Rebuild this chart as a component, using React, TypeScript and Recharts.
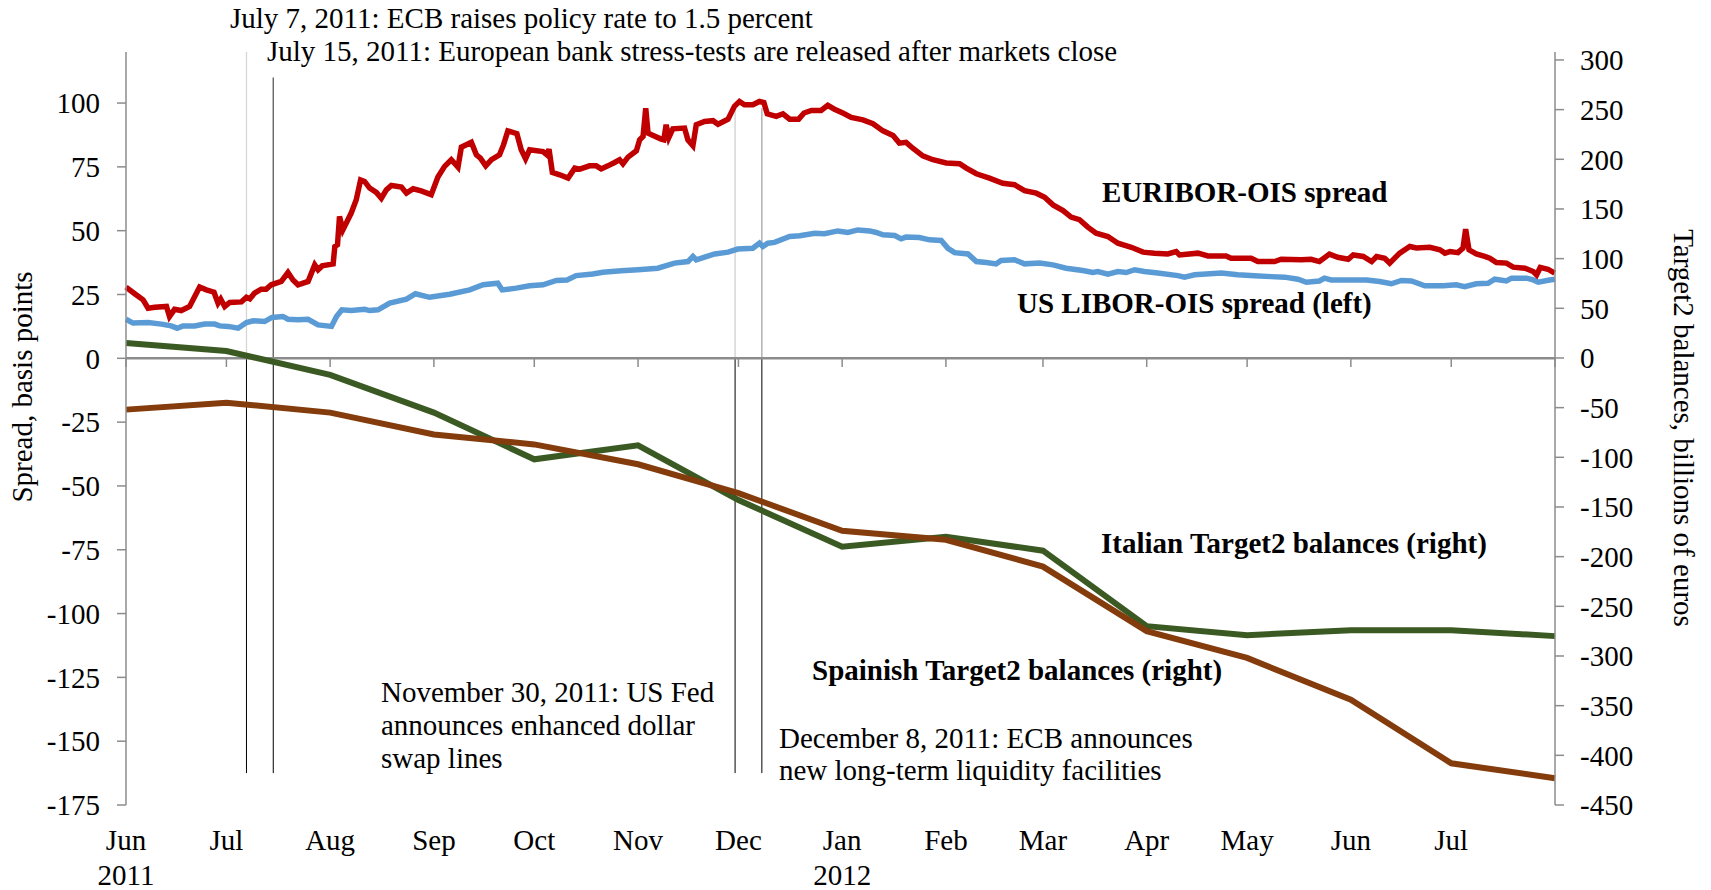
import { Line, LineChart, ReferenceLine, XAxis, YAxis } from "recharts";

const FONT = "'Liberation Serif', 'Times New Roman', serif";

const RED = "#c00000";
const BLUE = "#5b9bd5";
const GREEN = "#3b5a23";
const BROWN = "#843c0c";
const AXIS = "#8c8c8c";

// month starts, Jun 2011 .. Aug 2012
const monthStarts = [
  "2011-06-01", "2011-07-01", "2011-08-01", "2011-09-01", "2011-10-01",
  "2011-11-01", "2011-12-01", "2012-01-01", "2012-02-01", "2012-03-01",
  "2012-04-01", "2012-05-01", "2012-06-01", "2012-07-01", "2012-08-01",
];
const monthLabels = ["Jun", "Jul", "Aug", "Sep", "Oct", "Nov", "Dec", "Jan", "Feb", "Mar", "Apr", "May", "Jun", "Jul", ""];
const yearLabels = ["2011", "", "", "", "", "", "", "2012", "", "", "", "", "", "", ""];

// Target2 balances, billions of euros (right axis)
const italianT2 = [15, 7, -17, -55, -102, -88, -143, -190, -180, -194, -270, -279, -274, -274, -280];
const spanishT2 = [-52, -45, -55, -77, -87, -107, -136, -174, -183, -210, -275, -302, -344, -408, -423];

// days since 2011-06-01, basis points (left axis)
const euriborDay = [
  0, 2.6, 5.1, 6.6, 8.6, 12.1, 13, 14.5, 16.5, 19, 22, 24, 26.3, 27.5, 28.3, 29.5, 31, 34.5, 36, 37,
  38.4, 40.4, 41.9, 43.4, 46.4, 48.4, 49.9, 51.4, 54.4, 56.4, 57.4, 58.6, 61.9, 62.4, 63.2, 63.8, 64.8, 67.3, 68.8, 70.1,
  71.3, 72.8, 74.8, 76.3, 77.8, 79.3, 82.3, 83.8, 85.8, 88.2, 91.2, 93.2, 95.2, 97.2, 99.2, 100.2, 103.2, 104.7, 105.9, 107.5,
  109.2, 111.6, 112.8, 114.1, 116.8, 118.1, 119.4, 120.6, 124.6, 125.8, 126.4, 127.4, 129.6, 132.1, 134.1, 135.6, 138.5, 140.5, 142, 144,
  146, 147.5, 148.5, 150, 152.5, 153.5, 154.5, 155.3, 156, 159.9, 160.7, 161.4, 162.2, 163.4, 166.9, 167.9, 169.4, 170.4, 172.9, 175.4,
  176.9, 179.9, 181.8, 183.3, 184.8, 187.3, 189.3, 190.6, 191.6, 194.3, 196.3, 198.3, 201, 202.6, 204.8, 207.7, 209.7, 211.7, 214.2, 216.7,
  220.2, 223.2, 226.2, 229.2, 231.1, 233.1, 235.1, 238.1, 241.1, 245.1, 249.1, 251.1, 254.1, 258, 262, 265.5, 268.5, 272, 274.5, 277,
  280, 282.4, 284.9, 287.4, 289.9, 293.4, 296.4, 300.4, 303.9, 307.3, 311.3, 313.8, 314.8, 320.3, 323.3, 328.7, 330.2, 336.2, 338.2, 343.2,
  345.2, 351.2, 354.1, 356.6, 359.6, 362.1, 365.2, 366.7, 369.7, 372.2, 373.7, 376.1, 377.6, 380.6, 383.6, 385.6, 389.6, 392.6, 394.1, 395.6,
  398, 399.5, 400.3, 401.3, 403.5, 406, 407.5, 409.5, 412.5, 414.5, 418, 420.5, 421.5, 422.6, 424.9, 426.9,
];
const euriborBp = [
  27.9, 25.3, 22.9, 19.6, 20.0, 20.3, 16.4, 19.2, 18.7, 20.3, 27.9, 26.8, 25.9, 21.6, 23.2, 20.3, 21.9, 22.1, 23.9, 23.3,
  25.5, 27.1, 27.1, 28.8, 30.1, 33.6, 30.7, 28.8, 30.1, 36.6, 34.7, 36.2, 37.0, 43.8, 44.5, 55.6, 50.3, 56.9, 62.1, 69.9,
  69.3, 66.7, 65.0, 62.7, 66.0, 67.7, 67.1, 64.7, 66.4, 65.6, 64.1, 71.0, 75.2, 77.8, 74.9, 82.7, 84.6, 79.7, 78.4, 75.4,
  77.8, 79.7, 83.6, 89.1, 88.0, 81.7, 78.2, 81.7, 81.0, 79.7, 81.9, 72.8, 71.9, 70.6, 74.5, 74.1, 75.4, 75.4, 74.2, 75.4,
  76.7, 77.8, 76.2, 78.8, 81.3, 85.6, 86.9, 98.0, 88.2, 85.9, 85.6, 91.5, 86.5, 89.9, 90.2, 85.6, 83.3, 91.5, 92.8, 93.1,
  91.7, 93.7, 98.7, 100.6, 99.3, 99.3, 100.6, 100.2, 95.8, 94.8, 95.8, 93.7, 93.7, 96.1, 97.1, 97.1, 99.1, 97.6, 96.1, 94.4,
  93.4, 91.9, 89.1, 87.3, 84.3, 84.6, 82.3, 79.3, 77.8, 76.5, 76.2, 74.5, 72.3, 70.6, 68.6, 68.0, 65.7, 64.7, 63.1, 60.1,
  57.9, 55.3, 54.3, 51.4, 49.0, 47.7, 45.1, 43.5, 41.6, 41.2, 40.9, 41.8, 40.5, 41.2, 40.1, 40.1, 39.2, 39.2, 37.9, 37.9,
  38.8, 38.6, 38.8, 37.9, 40.8, 39.6, 38.8, 40.5, 39.9, 37.9, 39.9, 39.2, 37.3, 41.2, 43.8, 43.2, 43.5, 42.5, 41.2, 41.8,
  41.4, 43.2, 50.6, 42.5, 40.9, 39.9, 39.2, 37.5, 37.3, 35.7, 35.3, 34.0, 32.7, 35.6, 34.9, 33.4,
];

const liborDay = [
  0, 2.1, 6.6, 10.6, 13.5, 15.3, 17, 20.5, 23.5, 26.5, 28, 30.5, 33.5, 36, 38, 41.4, 43.6, 46.9, 48.4, 51.4,
  54.4, 57.4, 61.4, 62.9, 64.5, 67.3, 71.3, 72.8, 75.3, 78.8, 83.8, 86.5, 90.7, 96.7, 102.7, 106.7, 111.1, 112.4, 116.6, 120.6,
  124.6, 128.6, 131.8, 134.5, 139.5, 142.5, 148, 153, 158.9, 163.9, 167.9, 169.4, 170.4, 175.9, 179.9, 182.8, 187.3, 189.3, 190.3, 191.8,
  193.8, 198.3, 201.3, 205.8, 208.7, 212.7, 215.7, 218.7, 222.2, 224.2, 226.2, 229.7, 231.6, 233.1, 237.1, 240.1, 243.6, 245.6, 247.6, 251.6,
  254.1, 257.1, 260, 261.5, 265.5, 268.5, 273, 277, 280.9, 285.9, 288.9, 290.4, 293.4, 296.4, 298.9, 301.4, 304.3, 308.3, 314.3, 316.3,
  319.3, 327.3, 332.2, 337.2, 342.2, 346.2, 350.2, 352.7, 356.6, 358.1, 360.1, 365.7, 370.7, 374.6, 378.1, 381.1, 384.1, 388.1, 393.6, 397.5,
  400, 403.5, 407, 409, 412.5, 414, 418.5, 420.5, 422, 425.4, 427,
];
const liborBp = [
  15.3, 13.8, 14.0, 13.4, 12.7, 11.8, 12.7, 12.7, 13.4, 13.4, 12.7, 12.5, 11.8, 14.0, 14.7, 14.4, 16.0, 16.4, 15.3, 15.1,
  15.3, 13.1, 12.5, 16.4, 19.0, 18.7, 19.2, 18.7, 19.0, 21.6, 23.2, 25.3, 23.9, 25.1, 26.8, 28.8, 29.4, 26.8, 27.5, 28.4,
  28.8, 30.5, 30.7, 32.4, 33.0, 33.7, 34.3, 34.7, 35.3, 37.3, 37.9, 39.9, 38.6, 40.9, 41.6, 42.8, 43.1, 45.1, 43.8, 45.1,
  45.4, 47.7, 48.0, 49.0, 48.8, 49.9, 49.3, 50.3, 49.9, 49.3, 48.4, 48.1, 46.8, 47.5, 47.3, 46.4, 46.2, 43.1, 41.4, 40.9,
  37.9, 37.5, 37.0, 38.3, 38.6, 37.0, 37.3, 36.6, 35.3, 34.4, 33.6, 34.0, 33.0, 34.0, 33.6, 34.7, 34.0, 33.4, 32.4, 31.8,
  32.7, 33.4, 32.7, 32.3, 32.0, 31.8, 31.0, 29.8, 30.3, 31.4, 30.7, 30.7, 30.7, 30.1, 29.2, 30.5, 30.3, 28.4, 28.4, 28.8,
  28.1, 29.2, 29.4, 31.0, 30.3, 31.4, 31.4, 30.7, 29.8, 30.7, 31.0,
];

// event lines: date, how far up the spread panel they reach (bp), colour of upper part
const eventDates = ["2011-07-07", "2011-07-15", "2011-11-30", "2011-12-08"];
const eventTops = [120, 110, 98, 98];
const eventColors = ["#d6d6d6", "#595959", "#cfcfcf", "#a6a6a6"];
const EVENT_BOTTOM = -162.5;

const leftTicks = [-175, -150, -125, -100, -75, -50, -25, 0, 25, 50, 75, 100];
const rightTicks = [-450, -400, -350, -300, -250, -200, -150, -100, -50, 0, 50, 100, 150, 200, 250, 300];

const DAY0 = Date.parse("2011-06-01");
const dayOf = (iso: string) => Math.round((Date.parse(iso) - DAY0) / 86400000);
const monthTicks = monthStarts.map(dayOf);

const toRows = (days: number[], vals: number[]) => days.map((d, i) => ({ day: d, v: vals[i] }));
const euriborData = toRows(euriborDay, euriborBp);
const liborData = toRows(liborDay, liborBp);
const italianData = toRows(monthTicks, italianT2);
const spanishData = toRows(monthTicks, spanishT2);

const tickStyle = { fontFamily: FONT, fontSize: 29, fill: "#000" };

function MonthTick(props: any) {
  const { x, y, payload } = props;
  const i = monthTicks.indexOf(payload.value);
  return (
    <g>
      <text x={x} y={y} dy={45} textAnchor="middle" style={tickStyle}>
        {monthLabels[i]}
      </text>
      {yearLabels[i] ? (
        <text x={x} y={y} dy={80} textAnchor="middle" style={tickStyle}>
          {yearLabels[i]}
        </text>
      ) : null}
    </g>
  );
}

type Note = { x: number; y: number; text: string; bold?: boolean };
const notes: Note[] = [
  { x: 230, y: 28, text: "July 7, 2011: ECB raises policy rate to 1.5 percent" },
  { x: 267, y: 61, text: "July 15, 2011: European bank stress-tests are released after markets close" },
  { x: 1102, y: 202, text: "EURIBOR-OIS spread", bold: true },
  { x: 1017, y: 313, text: "US LIBOR-OIS spread (left)", bold: true },
  { x: 1101, y: 553, text: "Italian Target2 balances (right)", bold: true },
  { x: 812, y: 680, text: "Spainish Target2 balances (right)", bold: true },
  { x: 381, y: 702, text: "November 30, 2011: US Fed" },
  { x: 381, y: 735, text: "announces enhanced dollar" },
  { x: 381, y: 768, text: "swap lines" },
  { x: 779, y: 748, text: "December 8, 2011: ECB announces" },
  { x: 779, y: 780, text: "new long-term liquidity facilities" },
];

function Overlay() {
  return (
    <svg width={1711} height={890} style={{ position: "absolute", left: 0, top: 0, pointerEvents: "none" }}>
      {notes.map((n) => (
        <text key={n.text} x={n.x} y={n.y} fontFamily={FONT} fontSize={29} fontWeight={n.bold ? "bold" : "normal"} fill="#000">
          {n.text}
        </text>
      ))}
      <text
        x={22}
        y={387}
        transform="rotate(-90 22 387)"
        textAnchor="middle"
        dominantBaseline="central"
        fontFamily={FONT}
        fontSize={29}
      >
        Spread, basis points
      </text>
      <text
        x={1684}
        y={428}
        transform="rotate(90 1684 428)"
        textAnchor="middle"
        dominantBaseline="central"
        fontFamily={FONT}
        fontSize={29}
      >
        Target2 balances, billions of euros
      </text>
    </svg>
  );
}

export default function App() {
  return (
    <div style={{ position: "absolute", left: 0, top: 0, width: 1711, height: 890, background: "#fff" }}>
      <LineChart width={1711} height={890} margin={{ top: 52, right: 0, bottom: 0, left: 0 }}>
        <XAxis
          dataKey="day"
          type="number"
          domain={[0, 427]}
          ticks={monthTicks}
          interval={0}
          axisLine={false}
          tickLine={false}
          tickSize={0}
          tickMargin={0}
          height={85}
          tick={<MonthTick />}
        />
        <YAxis
          yAxisId="left"
          domain={[-175, 120]}
          ticks={leftTicks}
          interval={0}
          width={126}
          allowDataOverflow
          stroke={AXIS}
          strokeWidth={1.5}
          tickSize={9}
          tickMargin={17}
          tick={tickStyle}
        />
        <YAxis
          yAxisId="right"
          orientation="right"
          domain={[-450, 308]}
          ticks={rightTicks}
          interval={0}
          width={156}
          allowDataOverflow
          stroke={AXIS}
          strokeWidth={1.5}
          tickSize={9}
          tickMargin={16}
          tick={{ ...tickStyle, textAnchor: "start" }}
        />

        {eventDates.map((d, i) => (
          <ReferenceLine
            key={"up" + d}
            yAxisId="left"
            segment={[{ x: dayOf(d), y: 0 }, { x: dayOf(d), y: eventTops[i] }]}
            stroke={eventColors[i]}
            strokeWidth={1.3}
          />
        ))}
        {eventDates.map((d) => (
          <ReferenceLine
            key={"dn" + d}
            yAxisId="left"
            segment={[{ x: dayOf(d), y: 0 }, { x: dayOf(d), y: EVENT_BOTTOM }]}
            stroke="#000"
            strokeWidth={1}
          />
        ))}

        <ReferenceLine yAxisId="left" y={0} stroke={AXIS} strokeWidth={2.5} />
        {monthTicks.map((d) => (
          <ReferenceLine
            key={"tk" + d}
            yAxisId="left"
            segment={[{ x: d, y: 0 }, { x: d, y: -3.4 }]}
            stroke={AXIS}
            strokeWidth={1.5}
          />
        ))}

        <Line yAxisId="right" data={italianData} dataKey="v" type="linear" stroke={GREEN} strokeWidth={6} dot={false} isAnimationActive={false} />
        <Line yAxisId="right" data={spanishData} dataKey="v" type="linear" stroke={BROWN} strokeWidth={6} dot={false} isAnimationActive={false} />
        <Line yAxisId="left" data={liborData} dataKey="v" type="linear" stroke={BLUE} strokeWidth={5.5} dot={false} isAnimationActive={false} />
        <Line yAxisId="left" data={euriborData} dataKey="v" type="linear" stroke={RED} strokeWidth={5.5} dot={false} isAnimationActive={false} />
      </LineChart>
      <Overlay />
    </div>
  );
}
